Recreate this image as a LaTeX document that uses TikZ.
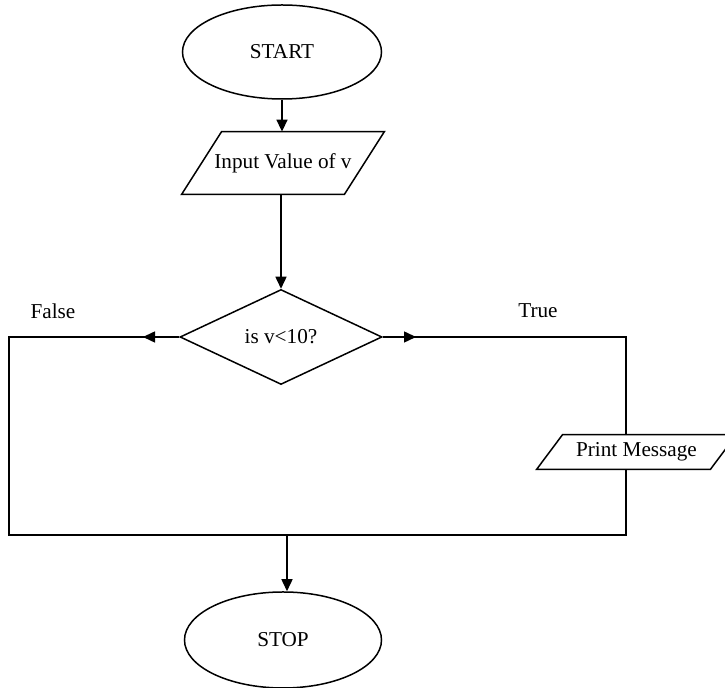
\documentclass[tikz,border=0pt]{standalone}
\usepackage{fontspec}
\setmainfont{Liberation Serif}
\usetikzlibrary{shapes,arrows.meta,positioning,calc}

\begin{document}
\begin{tikzpicture}[x=0.5pt, y=-0.5pt,
        every node/.style={font=\fontsize{10.6}{12}\selectfont},
        flow/.style={line width=0.75pt},
        arr/.style={flow, -{Triangle[length=6pt,width=5.5pt]}},
        terminal/.style={ellipse, draw, line width=0.75pt, inner sep=0pt,
              minimum width=99.5pt, minimum height=47pt},
        io/.style={rectangle, inner sep=0pt},
        decision/.style={diamond, draw, line width=0.75pt, inner sep=0pt,
              minimum width=101pt, minimum height=47.5pt}]
        \useasboundingbox (0,0) rectangle (725,688);

        % shapes
        \node[terminal] (start) at (282,52) {START};
        \node[io, minimum width=81pt, minimum height=31pt] (input) at (283,163) {Input Value of v};
        \node[decision] (check) at (281,337) {is v<10?};
        \node[io, minimum width=86.5pt, minimum height=17pt] (print) at (636.5,452) {Print Message};
        \node[terminal, minimum width=98.5pt, minimum height=48pt] (stop) at (283,640) {STOP};

        \node (false) at (53,311) {False};
        \node (true) at (538,311) {True};

        % parallelogram outlines
        \draw[flow] ([xshift=10pt]input.north west) -- ([xshift=10pt]input.north east)
              -- ([xshift=-10pt]input.south east) -- ([xshift=-10pt]input.south west) -- cycle;
        \draw[flow] ([xshift=6.5pt]print.north west) -- ([xshift=6.5pt]print.north east)
              -- ([xshift=-6.5pt]print.south east) -- ([xshift=-6.5pt]print.south west) -- cycle;

        % corners of the loop
        \coordinate (ftip) at (143,337);
        \coordinate (ttip) at (416,337);
        \coordinate (tl) at (9,337);
        \coordinate (bl) at (9,535);
        \coordinate (br) at (626,535);
        \coordinate (tr) at (626,337);
        \coordinate (join) at (287,535);

        % connectors
        \draw[arr] (start.south) -- (input.north -| start.south);
        \draw[arr] (input.south -| check.north) -- (check.north);
        \draw[flow] (check.west) -- (tl) -- (bl) -- (br) -- (print.south -| br);
        \draw[arr] (check.west) -- (ftip);
        \draw[flow] (check.east) -- (tr) -- (print.north -| tr);
        \draw[arr] (check.east) -- (ttip);
        \draw[arr] (join) -- (join |- stop.north);
    \end{tikzpicture}
\end{document}
